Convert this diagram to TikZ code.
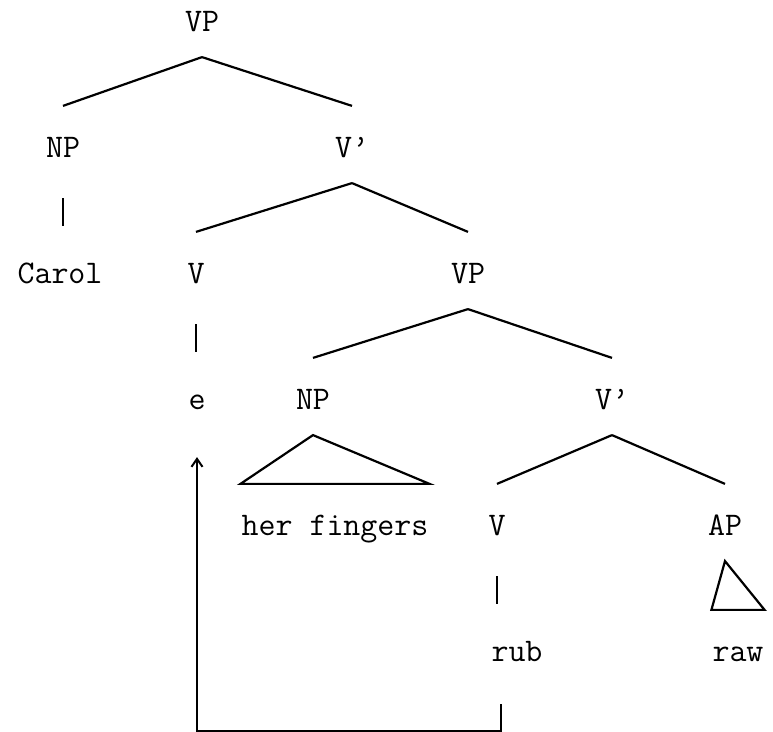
\documentclass[tikz,border=0pt]{standalone}
\usepackage{fontspec}
\usepackage{tikz}
\usetikzlibrary{arrows.meta}

\begin{document}
\begin{tikzpicture}[x=0.5pt,y=-0.5pt,line width=1.1pt,
    cat/.style={font=\ttfamily\fontsize{16.5}{19}\selectfont,anchor=base,inner sep=0pt,text height=25.5pt,text depth=12pt},
    bar/.style={shorten <=7.5pt,shorten >=3pt},
    move/.style={-{Straight Barb[length=4pt,width=5.5pt]},line width=1pt}]
    \useasboundingbox (0,0) rectangle (773,732);
    % categories and words, row by row
    \node[cat] (vp) at (202,32) {VP};
    \node[cat] (np) at (63,158) {NP};
    \node[cat] (vbar) at (352,158) {V’};
    \node[cat] (carol) at (60,284) {Carol};
    \node[cat] (v) at (196,284) {V};
    \node[cat] (vp2) at (468,284) {VP};
    \node[cat] (e) at (197,410) {e};
    \node[cat] (np2) at (313,410) {NP};
    \node[cat] (vbar2) at (612,410) {V’};
    \node[cat] (fingers) at (335,536) {her fingers};
    \node[cat] (v2) at (497,536) {V};
    \node[cat] (ap) at (725,536) {AP};
    \node[cat] (rub) at (517,662) {rub};
    \node[cat] (raw) at (738,662) {raw};
    % branches
    \draw (vp.south) -- (np.north); \draw (vp.south) -- (vbar.north);
    \draw[bar] (np.south) -- (np |- carol.north);
    \draw (vbar.south) -- (v.north); \draw (vbar.south) -- (vp2.north);
    \draw[bar] (v.south) -- (v |- e.north);
    \draw (vp2.south) -- (np2.north); \draw (vp2.south) -- (vbar2.north);
    \draw (np2.south) -- (fingers.north west) -- (fingers.north east) -- cycle;
    \draw (vbar2.south) -- (v2.north); \draw (vbar2.south) -- (ap.north);
    \draw[bar] (v2.south) -- (v2 |- rub.north);
    \draw (ap.south) -- (raw.north west) -- (raw.north east) -- cycle;
    % movement of the verb
    \draw[move] (v2 |- rub.south) ++(2pt,-8.5pt) -- ++(0,-13.5pt) -| ([yshift=-11pt]e.south);
\end{tikzpicture}
\end{document}
